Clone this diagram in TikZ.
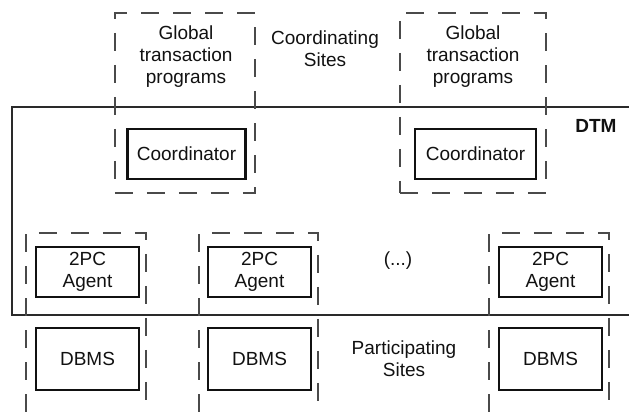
\documentclass[tikz,border=0pt]{standalone}
\usepackage{fontspec}
\setmainfont{Liberation Sans}
\usepackage{tikz}
\usetikzlibrary{positioning}
\definecolor{dtInk}{HTML}{111111}
\definecolor{dtDash}{HTML}{4A4A4A}
\definecolor{dtLine}{HTML}{2A2A2A}
\tikzset{
  sitebox/.style={rectangle,draw=dtDash,line width=0.7pt,
    dash pattern=on 9pt off 7pt,inner sep=0pt,
    minimum width=70pt,minimum height=90pt},
  sitecol/.style={draw=dtDash,line width=0.7pt,dash pattern=on 9pt off 7pt},
  cbox/.style={rectangle,draw=dtInk,line width=1.4pt,inner sep=1pt,
    minimum width=59pt,minimum height=25pt,align=center,
    font=\fontsize{9.5}{11}\selectfont,text=dtInk},
  abox/.style={cbox,minimum width=51.5pt,minimum height=25pt},
  dbox/.style={cbox,minimum width=51.5pt,minimum height=31pt},
  lbl/.style={align=center,inner sep=0pt,
    font=\fontsize{9.5}{11}\selectfont,text=dtInk},
  dtmline/.style={draw=dtLine,line width=0.7pt},
}
\begin{document}
\begin{tikzpicture}[x=0.5pt,y=-0.5pt]
  \useasboundingbox (0,0) rectangle (629,412);

  \draw[dtmline] (629,107) -| (12,315) -- (629,315);
  \node[lbl,font=\fontsize{9.5}{11}\selectfont\bfseries] (dtm) at (596,126) {DTM};

  \node[sitebox] (gsite1) at (185,103) {};
  \node[sitebox,minimum width=73pt] (gsite2) at (473,103) {};
  \node[lbl] (gtp1) at (186,57) {Global\\transaction\\programs};
  \node[lbl] (gtp2) at (473,57) {Global\\transaction\\programs};
  \node[lbl] (csites) at (325,49) {Coordinating\\Sites};
  \node[cbox] (coord1) at (186.5,154) {Coordinator};
  \node[cbox,minimum width=60.5pt] (coord2) at (475.5,154) {Coordinator};

  \draw[sitecol] (26,412) |- (146,233) -- (146,412);
  \draw[sitecol] (199,412) |- (318,233) -- (318,412);
  \draw[sitecol] (489,412) |- (609,233) -- (609,412);

  \node[abox] (agent1) at (87.5,272) {2PC\\Agent};
  \node[abox] (agent2) at (259.5,272) {2PC\\Agent};
  \node[abox] (agent3) at (550.5,272) {2PC\\Agent};
  \node[lbl] (dots) at (398,261) {(...)};

  \node[dbox] (dbms1) at (87.5,359) {DBMS};
  \node[dbox] (dbms2) at (259.5,359) {DBMS};
  \node[dbox] (dbms3) at (550.5,359) {DBMS};
  \node[lbl] (psites) at (404,359) {Participating\\Sites};
\end{tikzpicture}
\end{document}
